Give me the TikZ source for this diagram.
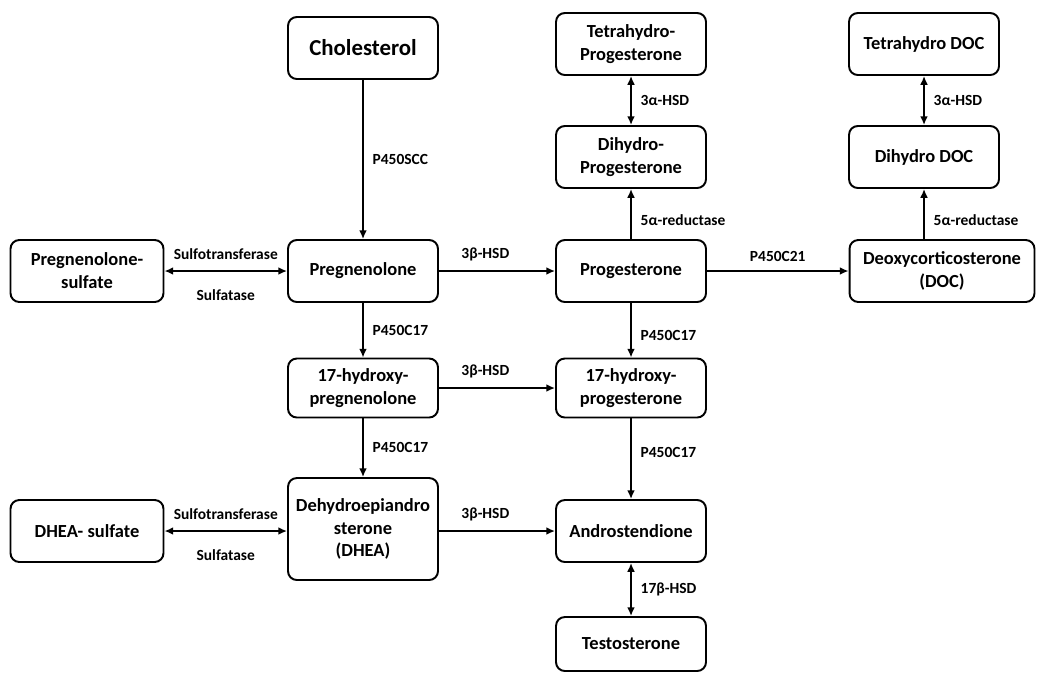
\documentclass[tikz,border=0pt]{standalone}
\usepackage{fontspec}
\setmainfont{Carlito}
\usetikzlibrary{arrows.meta,positioning}

\tikzset{
  box/.style={draw, line width=1.1pt, rounded corners=5pt, minimum width=3cm,
    minimum height=1.24cm, align=center, inner sep=2pt,
    font=\bfseries\fontsize{10.5}{13}\selectfont},
  enz/.style={font=\bfseries\fontsize{8.8}{10}\selectfont, inner sep=2pt},
  conv/.style={line width=1pt, -{Latex[length=5pt,width=4.5pt]}},
  rev/.style={line width=1pt, {Latex[length=5pt,width=4.5pt]}-{Latex[length=5pt,width=4.5pt]}}
}

\begin{document}
\begin{tikzpicture}[x=0.02cm, y=-0.02cm]
	\useasboundingbox (0,0) rectangle (1043,674);
	% steroid boxes
	\node[box, font=\bfseries\fontsize{13}{15}\selectfont] (chol) at (363,48) {Cholesterol};
	\node[box] (thprog) at (631,44) {Tetrahydro-\\Progesterone};
	\node[box] (thdoc) at (924,44) {Tetrahydro DOC};
	\node[box] (dhprog) at (631,157) {Dihydro-\\Progesterone};
	\node[box] (dhdoc) at (924,157) {Dihydro DOC};
	\node[box, minimum width=3.06cm] (pregs) at (87,271) {Pregnenolone-\\sulfate};
	\node[box] (preg) at (363,271) {Pregnenolone};
	\node[box] (prog) at (631,271) {Progesterone};
	\node[box, minimum width=3.7cm] (doc) at (942,271) {Deoxycorticosterone\\(DOC)};
	\node[box, minimum height=1.18cm] (ohpreg) at (363,388) {17-hydroxy-\\pregnenolone};
	\node[box, minimum height=1.18cm] (ohprog) at (631,388) {17-hydroxy-\\progesterone};
	\node[box, minimum width=3.06cm] (dheas) at (87,531) {DHEA- sulfate};
	\node[box, minimum height=2.04cm] (dhea) at (363,529) {Dehydroepiandro\\sterone\\(DHEA)};
	\node[box] (andro) at (631,531) {Androstendione};
	\node[box, minimum height=1.08cm] (testo) at (631,644) {Testosterone};

	% conversions
	\draw[conv] (chol) -- (preg) node[enz, midway, right=3pt] {P450SCC};
	\draw[rev] (pregs) -- (preg) node[enz, midway, above=4pt] {Sulfotransferase}
		node[enz, midway, below=8pt] {Sulfatase};
	\draw[conv] (preg) -- (prog) node[enz, pos=0.4, above=3pt] {3β-HSD};
	\draw[conv] (prog) -- (doc) node[enz, midway, above=3pt] {P450C21};
	\draw[conv] (prog) -- (dhprog) node[enz, pos=0.37, right=3pt] {5α-reductase};
	\draw[rev] (dhprog) -- (thprog) node[enz, midway, right=3pt] {3α-HSD};
	\draw[conv] (dhdoc |- doc.north) -- (dhdoc) node[enz, pos=0.37, right=3pt] {5α-reductase};
	\draw[rev] (dhdoc) -- (thdoc) node[enz, midway, right=3pt] {3α-HSD};
	\draw[conv] (preg) -- (ohpreg) node[enz, midway, right=3pt] {P450C17};
	\draw[conv] (prog) -- (ohprog) node[enz, pos=0.6, right=3pt] {P450C17};
	\draw[conv] (ohpreg) -- (ohprog) node[enz, pos=0.4, above=3pt] {3β-HSD};
	\draw[conv] (ohpreg) -- (dhea) node[enz, midway, right=3pt] {P450C17};
	\draw[conv] (ohprog) -- (andro) node[enz, pos=0.42, right=3pt] {P450C17};
	\draw[rev] (dheas) -- (dheas -| dhea.west) node[enz, midway, above=4pt] {Sulfotransferase}
		node[enz, midway, below=8pt] {Sulfatase};
	\draw[conv] (dhea.east |- andro) -- (andro) node[enz, pos=0.4, above=3pt] {3β-HSD};
	\draw[rev] (andro) -- (testo) node[enz, midway, right=3pt] {17β-HSD};
\end{tikzpicture}
\end{document}
